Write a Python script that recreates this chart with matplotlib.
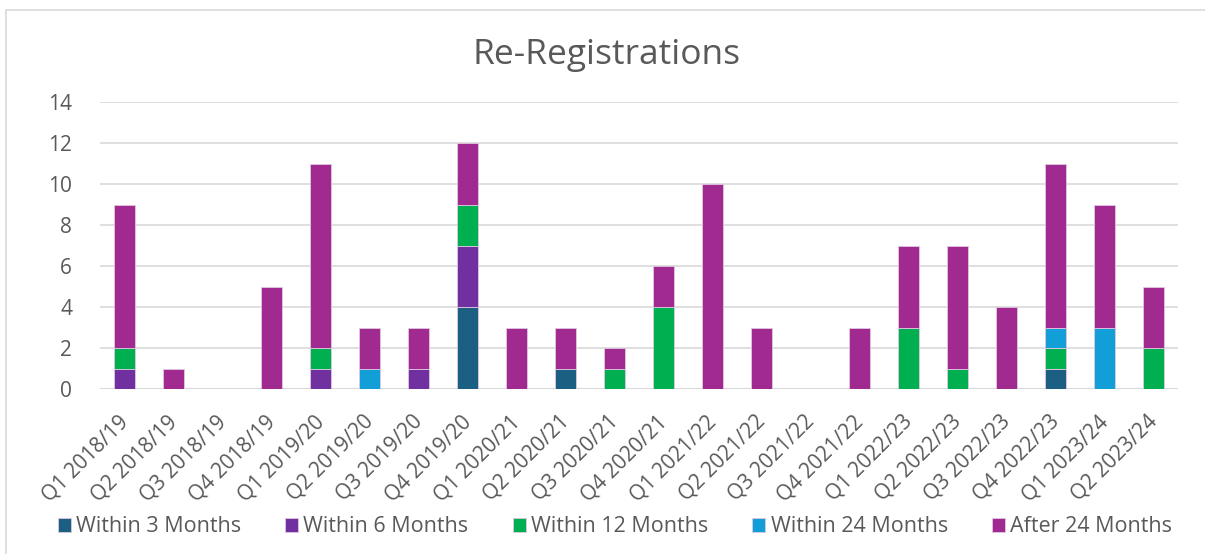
import matplotlib.pyplot as plt
import matplotlib.transforms as mtransforms
import numpy as np
from matplotlib.patches import Rectangle

categories = ['Q1 2018/19', 'Q2 2018/19', 'Q3 2018/19', 'Q4 2018/19',
              'Q1 2019/20', 'Q2 2019/20', 'Q3 2019/20', 'Q4 2019/20',
              'Q1 2020/21', 'Q2 2020/21', 'Q3 2020/21', 'Q4 2020/21',
              'Q1 2021/22', 'Q2 2021/22', 'Q3 2021/22', 'Q4 2021/22',
              'Q1 2022/23', 'Q2 2022/23', 'Q3 2022/23', 'Q4 2022/23',
              'Q1 2023/24', 'Q2 2023/24']

within_3 = [0, 0, 0, 0, 0, 0, 0, 4, 0, 1, 0, 0, 0, 0, 0, 0, 0, 0, 0, 1, 0, 0]
within_6 = [1, 0, 0, 0, 1, 0, 1, 3, 0, 0, 0, 0, 0, 0, 0, 0, 0, 0, 0, 0, 0, 0]
within_12 = [1, 0, 0, 0, 1, 0, 0, 2, 0, 0, 1, 4, 0, 0, 0, 0, 3, 1, 0, 1, 0, 2]
within_24 = [0, 0, 0, 0, 0, 1, 0, 0, 0, 0, 0, 0, 0, 0, 0, 0, 0, 0, 0, 1, 3, 0]
after_24 = [7, 1, 0, 5, 9, 2, 2, 3, 3, 2, 1, 2, 10, 3, 0, 3, 4, 6, 4, 8, 6, 3]

series = [
    ('Within 3 Months', within_3, '#1b5f82'),
    ('Within 6 Months', within_6, '#7030a0'),
    ('Within 12 Months', within_12, '#00b050'),
    ('Within 24 Months', within_24, '#129fd7'),
    ('After 24 Months', after_24, '#a02a90'),
]

plt.rcParams['font.family'] = ['Open Sans', 'DejaVu Sans']
text_col = '#595959'

fig = plt.figure(figsize=(12.05, 5.54), dpi=100)
ax = fig.add_axes([100 / 1205, 1 - 389 / 554, 1078 / 1205, 287 / 554])

# chart border (cut off on the right and bottom like the screenshot)
fig.patches.append(Rectangle((6 / 1205, -0.05), 1.1, 1 - 10 / 554 + 0.05,
                             transform=fig.transFigure, fill=False,
                             edgecolor='#d9d9d9', lw=1.2))

x = np.arange(len(categories))
bottom = np.zeros(len(categories))
for name, vals, col in series:
    vals = np.array(vals)
    ax.bar(x, vals, 0.41, bottom=bottom, color=col, label=name,
           edgecolor='#e0c8e0', linewidth=0.6, zorder=3)
    bottom += vals

ax.set_xlim(-0.5, len(categories) - 0.5)
ax.set_ylim(0, 14)
ax.set_yticks(range(0, 15, 2))
ax.grid(axis='y', color='#d9d9d9', lw=1.2, zorder=0)
for s in ax.spines.values():
    s.set_visible(False)
ax.tick_params(axis='both', length=0, colors=text_col, labelsize=15)
ax.tick_params(axis='y', pad=20)
ax.set_xticks(x)
ax.set_xticklabels(categories, rotation=45, ha='right', rotation_mode='anchor')
ax.tick_params(axis='x', pad=16)
# nudge rotated labels left so their top end sits under the bar
shift = mtransforms.ScaledTranslation(-7 / 100, 0, fig.dpi_scale_trans)
for lab in ax.get_xticklabels():
    lab.set_transform(lab.get_transform() + shift)
ax.axhline(0, color='#d9d9d9', lw=1.5, zorder=2)

fig.text(607 / 1205, 1 - 55 / 554, 'Re-Registrations', ha='center', va='center',
         fontsize=25.5, color=text_col)

leg = fig.legend(loc='center', bbox_to_anchor=(615 / 1205, 1 - 527 / 554), ncol=5,
                 frameon=False, fontsize=15.5, handlelength=0.6, handleheight=0.6,
                 handletextpad=0.25, columnspacing=2.05, labelcolor=text_col)

fig.savefig('out.png', dpi=100, facecolor='white')
